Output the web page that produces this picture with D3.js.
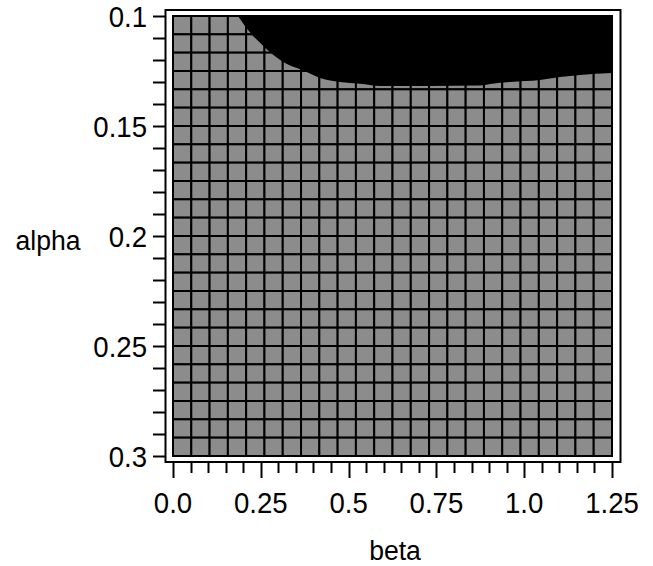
<!DOCTYPE html>
<html>
<head>
<meta charset="utf-8">
<script src="https://cdn.jsdelivr.net/npm/d3@7"></script>
<style>
  html, body { margin: 0; padding: 0; background: #fff; }
  svg { display: block; }
  text { font-family: "Liberation Sans", Arial, sans-serif; fill: #000; }
</style>
</head>
<body>
<svg id="chart" width="653" height="566"></svg>
<script>
// ---- data ----
const betaDomain = [0, 1.25];
const alphaDomain = [0.1, 0.3];
const nCols = 24;
const nRows = 24;
const xTickLabels = ["0.0", "0.25", "0.5", "0.75", "1.0", "1.25"];
const xTickValues = [0, 0.25, 0.5, 0.75, 1.0, 1.25];
const yTickLabels = ["0.1", "0.15", "0.2", "0.25", "0.3"];
const yTickValues = [0.1, 0.15, 0.2, 0.25, 0.3];
// boundary of the black region (alpha below which region is black)
const edgeBeta  = [0.185, 0.205, 0.225, 0.250, 0.276, 0.319, 0.370, 0.419, 0.476, 0.532, 0.589, 0.732, 0.874, 0.903, 0.960, 1.045, 1.102, 1.159, 1.25];
const edgeAlpha = [0.1000, 0.1045, 0.1085, 0.1125, 0.1164, 0.1214, 0.1247, 0.1282, 0.1300, 0.1308, 0.1318, 0.1318, 0.1316, 0.1309, 0.1300, 0.1291, 0.1277, 0.1268, 0.1259];

// ---- layout ----
const svg = d3.select("#chart");
const x = d3.scaleLinear().domain(betaDomain).range([173, 612]);
const y = d3.scaleLinear().domain(alphaDomain).range([16, 456]);

// frame
svg.append("rect")
  .attr("x", 165.5).attr("y", 10).attr("width", 455).attr("height", 452)
  .attr("fill", "#fff").attr("stroke", "#000").attr("stroke-width", 2);

// cells
const cw = (betaDomain[1] - betaDomain[0]) / nCols;
const ch = (alphaDomain[1] - alphaDomain[0]) / nRows;
const cells = [];
for (let i = 0; i < nCols; i++) for (let j = 0; j < nRows; j++)
  cells.push({b: betaDomain[0] + i * cw, a: alphaDomain[0] + j * ch});

svg.append("g").selectAll("rect").data(cells).join("rect")
  .attr("x", d => x(d.b))
  .attr("y", d => y(d.a))
  .attr("width", x(cw) - x(0))
  .attr("height", y(alphaDomain[0] + ch) - y(alphaDomain[0]))
  .attr("fill", "#8c8c8c")
  .attr("stroke", "#000")
  .attr("stroke-width", 2);

// black region
const edge = edgeBeta.map((b, i) => ({b, a: edgeAlpha[i]}));
const area = d3.area()
  .x(d => x(d.b))
  .y0(y(alphaDomain[0]) - 1)
  .y1(d => y(d.a))
  .curve(d3.curveMonotoneX);
svg.append("path").datum(edge).attr("d", area).attr("fill", "#000");
svg.append("rect")
  .attr("x", x(1.25) - 1).attr("y", y(alphaDomain[0]) - 1)
  .attr("width", 2).attr("height", y(edgeAlpha[edgeAlpha.length - 1]) - y(alphaDomain[0]) + 1)
  .attr("fill", "#000");

// y axis ticks (every 0.01)
const yMinor = d3.range(0, 21).map(k => alphaDomain[0] + k * 0.01);
svg.append("g").selectAll("line").data(yMinor).join("line")
  .attr("x1", 153).attr("x2", 165)
  .attr("y1", d => Math.round(y(d)) + 0.5).attr("y2", d => Math.round(y(d)) + 0.5)
  .attr("stroke", "#000").attr("stroke-width", 2);

svg.append("g").selectAll("text").data(yTickValues).join("text")
  .attr("transform", d => `translate(147,${y(d) + 11}) scale(0.92,1)`)
  .attr("text-anchor", "end")
  .attr("font-size", 30)
  .text((d, i) => yTickLabels[i]);

// x axis ticks (every 0.05)
const xMinor = d3.range(0, 26).map(k => k * 0.05);
svg.append("g").selectAll("line").data(xMinor).join("line")
  .attr("x1", d => Math.round(x(d)) + 0.5).attr("x2", d => Math.round(x(d)) + 0.5)
  .attr("y1", 463)
  .attr("y2", (d, i) => (i % 5 === 0 ? 478 : 473))
  .attr("stroke", "#000").attr("stroke-width", 2);

svg.append("g").selectAll("text").data(xTickValues).join("text")
  .attr("transform", d => `translate(${x(d)},513) scale(0.92,1)`)
  .attr("text-anchor", "middle")
  .attr("font-size", 30)
  .text((d, i) => xTickLabels[i]);

// axis titles
svg.append("text").attr("transform", "translate(48,250) scale(0.95,1)")
  .attr("text-anchor", "middle").attr("font-size", 28).text("alpha");
svg.append("text").attr("transform", "translate(395,560) scale(0.95,1)")
  .attr("text-anchor", "middle").attr("font-size", 28).text("beta");
</script>
</body>
</html>
